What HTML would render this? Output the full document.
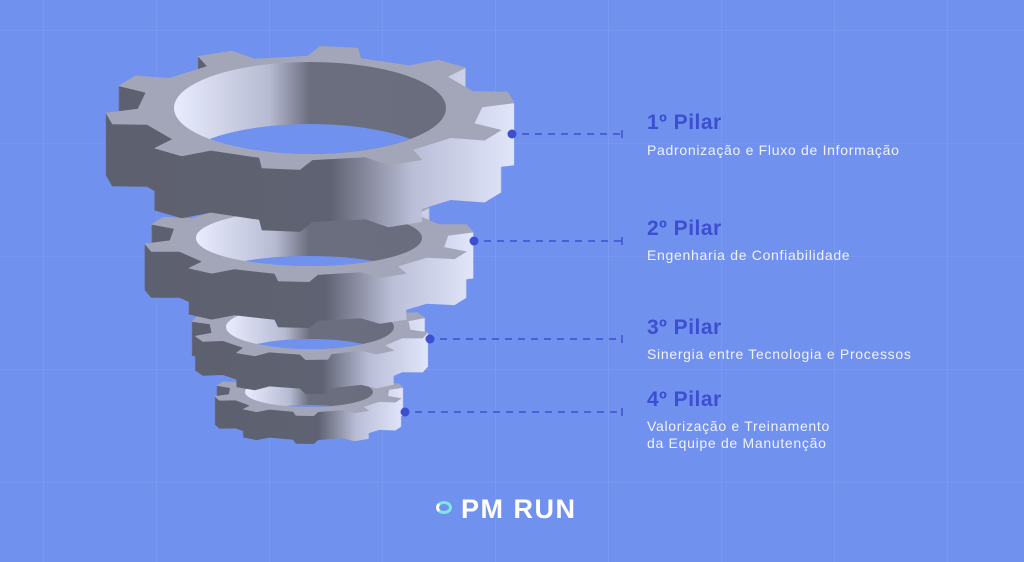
<!DOCTYPE html>
<html><head><meta charset="utf-8"><style>
html,body{margin:0;padding:0}
body{width:1024px;height:562px;overflow:hidden;background:#7191ee;position:relative;font-family:"Liberation Sans",sans-serif}
.grid{position:absolute;inset:0;background-image:linear-gradient(to right,rgba(255,255,255,0.06) 1px,transparent 1px),linear-gradient(to bottom,rgba(255,255,255,0.06) 1px,transparent 1px);background-size:113px 113px;background-position:43px 30px}
.t{position:absolute;left:647px;color:#3b4fd0;font-weight:bold;font-size:21px;letter-spacing:0.5px}
.s{position:absolute;left:647px;color:#eef1ff;font-size:14px;line-height:17px;letter-spacing:0.7px}
svg{position:absolute;left:0;top:0}
</style></head><body>
<div class="grid"></div>
<svg id="g" width="1024" height="562"></svg>
<div class="t" style="top:111px">1º Pilar</div>
<div class="s" style="top:142px">Padronização e Fluxo de Informação</div>
<div class="t" style="top:217px">2º Pilar</div>
<div class="s" style="top:247px">Engenharia de Confiabilidade</div>
<div class="t" style="top:316px">3º Pilar</div>
<div class="s" style="top:346px">Sinergia entre Tecnologia e Processos</div>
<div class="t" style="top:388px">4º Pilar</div>
<div class="s" style="top:418px">Valorização e Treinamento<br>da Equipe de Manutenção</div>
<div style="position:absolute;left:436px;top:501px;width:16px;height:13px;border:3px solid #7fe6e0;border-radius:50%;border-left-color:#fff;box-sizing:border-box"></div>
<div style="position:absolute;left:461px;top:494px;color:#fff;font-weight:bold;font-size:27px;letter-spacing:1.5px">PM RUN</div>
<script>
var s=document.getElementById("g");
var defs='<defs><linearGradient id="side" x1="0" x2="1"><stop offset="0" stop-color="#5d606e"/><stop offset="0.55" stop-color="#5f6272"/><stop offset="0.75" stop-color="#b9bdd6"/><stop offset="1" stop-color="#e2e6fb"/></linearGradient><linearGradient id="wall" x1="0" x2="1"><stop offset="0" stop-color="#e9ecff"/><stop offset="0.35" stop-color="#b7bbd2"/><stop offset="0.5" stop-color="#6b6e7e"/><stop offset="1" stop-color="#6a6d7d"/></linearGradient></defs>';
var out=defs;
function outline(cx,cy,rx,ry,n,rot){var p=[];for(var i=0;i<n;i++){var a0=rot+i*2*Math.PI/n,st=2*Math.PI/n;var seg=[[0,0.84],[0.1,1],[0.4,1],[0.5,0.84]];for(var k=0;k<4;k++){var a=a0+seg[k][0]*st,r=seg[k][1];p.push((cx+r*rx*Math.cos(a)).toFixed(1)+","+(cy+r*ry*Math.sin(a)).toFixed(1));}}return p.join(" ");}
function gear(cx,cy,rx,ry,h,irx,iry,n,rot,id){
 for(var d=h;d>0;d-=1){out+='<polygon points="'+outline(cx,cy+d,rx,ry,n,rot)+'" fill="url(#side)"/>';}
 out+='<polygon points="'+outline(cx,cy,rx,ry,n,rot)+'" fill="#a3a6b8"/>';
 out+='<clipPath id="c'+id+'"><ellipse cx="'+cx+'" cy="'+cy+'" rx="'+irx+'" ry="'+iry+'"/></clipPath>';
 out+='<ellipse cx="'+cx+'" cy="'+cy+'" rx="'+irx+'" ry="'+iry+'" fill="url(#wall)"/>';
 out+='<ellipse clip-path="url(#c'+id+')" cx="'+cx+'" cy="'+(cy+h)+'" rx="'+irx+'" ry="'+iry+'" fill="#7191ee"/>';
}
gear(309,392,96,24,28,64,15,10,0.2,4);
gear(310,327,120,33,34,84,22,10,0.1,3);
gear(309,238,166,44,46,113,28,10,0.25,2);
gear(310,108,205,62,62,136,46,10,0.3,1);
[[512,134],[474,241],[430,339],[405,412]].forEach(function(c){
 out+='<line x1="'+(c[0]+10)+'" y1="'+c[1]+'" x2="621" y2="'+c[1]+'" stroke="#3d51cf" stroke-width="1.5" stroke-dasharray="7,6"/>';
 out+='<line x1="622" y1="'+(c[1]-4)+'" x2="622" y2="'+(c[1]+4)+'" stroke="#3d51cf" stroke-width="1.5"/>';
 out+='<circle cx="'+c[0]+'" cy="'+c[1]+'" r="4.5" fill="#3b4fd0"/>';
});
s.innerHTML=out;
</script>
</body></html>
